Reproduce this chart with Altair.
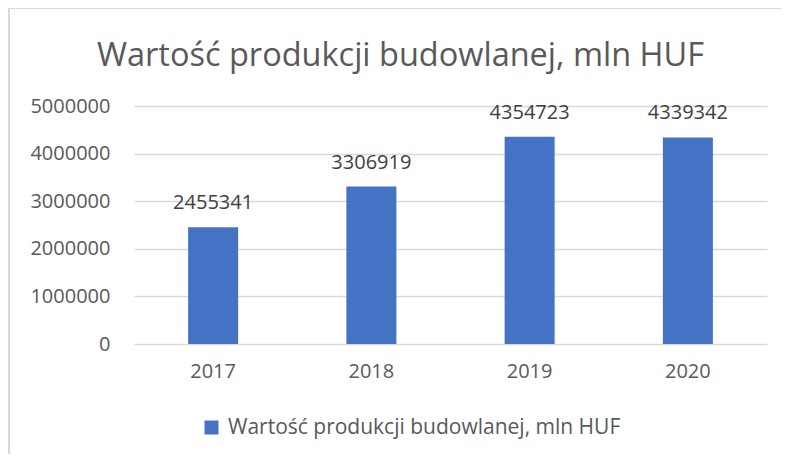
import altair as alt
import pandas as pd

years = ["2017", "2018", "2019", "2020"]
values = [2455341, 3306919, 4354723, 4339342]
series_name = "Wartość produkcji budowlanej, mln HUF"
y_ticks = [0, 1000000, 2000000, 3000000, 4000000, 5000000]

df = pd.DataFrame({"year": years, "value": values, "series": [series_name] * len(years)})

FONT = "Open Sans"
GRAY = "#595959"
GRID = "#D9D9D9"
BLUE = "#4472C4"

base = alt.Chart(df)

bars = base.mark_bar(size=50, color=BLUE).encode(
    x=alt.X("year:O", sort=years, title=None,
            scale=alt.Scale(paddingInner=0, paddingOuter=0),
            axis=alt.Axis(labelAngle=0, ticks=False, domain=False, labelPadding=17,
                          labelFontSize=20, labelColor=GRAY, labelFont=FONT)),
    y=alt.Y("value:Q", title=None,
            scale=alt.Scale(domain=[0, 5000000], nice=False),
            axis=alt.Axis(values=y_ticks, format="d", ticks=False, domain=False,
                          labelPadding=24, labelFontSize=20, labelColor=GRAY, labelFont=FONT,
                          grid=True, gridColor=GRID, gridWidth=1.5)),
    color=alt.Color("series:N", scale=alt.Scale(range=[BLUE]),
                    legend=alt.Legend(title=None, orient="none", legendX=67, legendY=311,
                                      symbolType="square", symbolSize=196, symbolStrokeWidth=0,
                                      labelFontSize=21, labelColor=GRAY, labelFont=FONT,
                                      labelOffset=6, labelLimit=0, padding=0)),
)

labels = base.mark_text(dy=-18, baseline="alphabetic", fontSize=20, font=FONT, color="#404040").encode(
    x=alt.X("year:O", sort=years),
    y=alt.Y("value:Q"),
    text=alt.Text("value:Q", format="d"),
)

border_left = alt.Chart(pd.DataFrame({"a": [0]})).mark_rule(color=GRID, strokeWidth=2).encode(
    x=alt.value(-125), y=alt.value(-98), y2=alt.value(400)
)
border_top = alt.Chart(pd.DataFrame({"a": [0]})).mark_rule(color=GRID, strokeWidth=2).encode(
    x=alt.value(-126), x2=alt.value(700), y=alt.value(-98)
)

chart = alt.layer(border_left, border_top, bars, labels).properties(
    width=633, height=238,
    title=alt.TitleParams(series_name, fontSize=32.5, font=FONT, fontWeight="normal",
                          color=GRAY, anchor="middle", dx=-50, dy=91, offset=0,
                          baseline="alphabetic"),
    autosize=alt.AutoSizeParams(type="none"),
    padding={"left": 126, "top": 98, "right": 14, "bottom": 110},
).configure_view(stroke=None)

chart.save("out.html", embed_options={"renderer": "svg", "actions": False})
